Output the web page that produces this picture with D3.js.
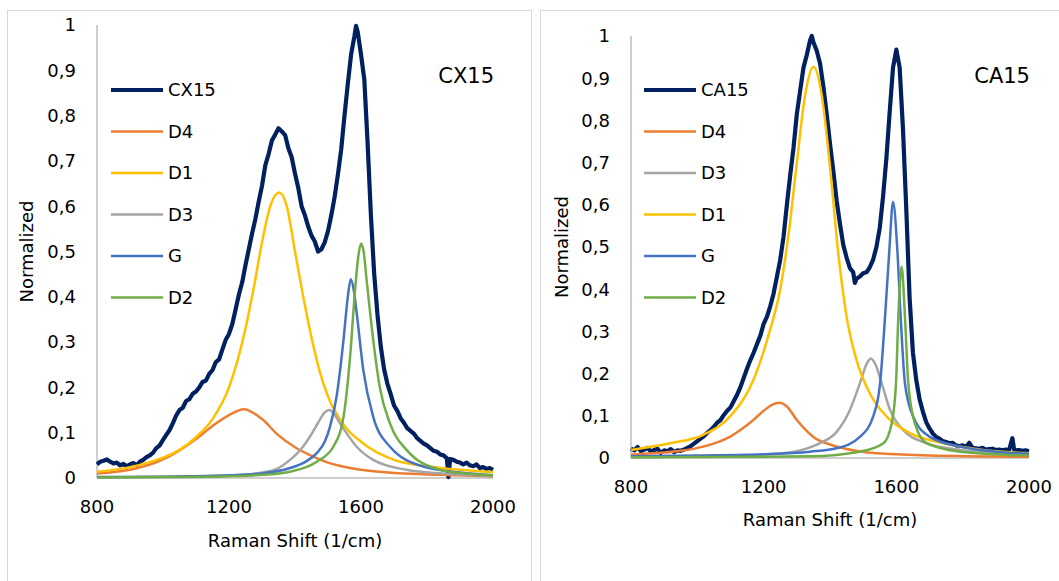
<!DOCTYPE html>
<html>
<head>
<meta charset="utf-8">
<script src="https://cdn.jsdelivr.net/npm/d3@7"></script>
<style>
  body { margin: 0; background: #fff; }
  svg { display: block; font-family: "DejaVu Sans", Verdana, sans-serif; }
</style>
</head>
<body>
<svg id="chart" width="1059" height="581"></svg>
<script>
// measured spectra, [raman shift, normalized]
var cx15 = [[800,.030],[810,.036],[820,.038],[830,.041],[840,.036],[850,.032],[860,.034],[870,.028],[880,.031],[890,.026],
  [900,.030],[910,.033],[920,.028],[930,.036],[940,.040],[950,.046],[960,.050],[970,.056],[980,.066],[990,.072],
  [1000,.084],[1010,.095],[1020,.106],[1030,.121],[1040,.138],[1050,.150],[1060,.155],[1070,.170],[1080,.174],[1090,.186],
  [1100,.191],[1110,.200],[1120,.212],[1130,.215],[1140,.230],[1150,.238],[1160,.256],[1170,.262],[1180,.284],[1190,.305],
  [1200,.318],[1210,.340],[1220,.372],[1230,.405],[1240,.432],[1250,.470],[1260,.505],[1270,.540],[1280,.572],[1290,.610],
  [1300,.645],[1310,.690],[1320,.715],[1330,.745],[1340,.758],[1350,.772],[1360,.765],[1370,.757],[1380,.728],[1390,.708],
  [1400,.672],[1410,.640],[1420,.600],[1430,.580],[1440,.555],[1450,.535],[1460,.522],[1470,.500],[1480,.505],[1490,.520],
  [1500,.545],[1510,.580],[1520,.620],[1530,.670],[1540,.725],[1550,.800],[1560,.870],[1570,.935],[1580,.975],[1585,.998],
  [1590,.985],[1600,.935],[1610,.880],[1620,.740],[1630,.580],[1640,.450],[1650,.360],[1660,.290],[1670,.240],[1680,.208],
  [1690,.185],[1700,.160],[1710,.148],[1720,.132],[1730,.122],[1740,.110],[1750,.104],[1760,.098],[1770,.088],[1780,.082],
  [1790,.076],[1800,.072],[1810,.066],[1820,.060],[1830,.058],[1840,.052],[1850,.050],[1860,.044],[1865,.002],[1870,.042],
  [1880,.040],[1890,.036],[1900,.034],[1910,.030],[1920,.034],[1930,.028],[1940,.026],[1950,.030],[1960,.022],[1970,.024],
  [1980,.020],[1990,.022],[2000,.018]];

var ca15 = [[800,.022],[810,.018],[820,.026],[830,.016],[840,.020],[850,.024],[860,.015],[870,.019],[880,.022],[890,.012],
  [900,.018],[910,.016],[920,.021],[930,.014],[940,.018],[950,.017],[960,.020],[970,.024],[980,.028],[990,.034],
  [1000,.040],[1010,.046],[1020,.052],[1030,.060],[1040,.066],[1050,.074],[1060,.084],[1070,.090],[1080,.102],[1090,.112],
  [1100,.120],[1110,.135],[1120,.150],[1130,.168],[1140,.190],[1150,.212],[1160,.232],[1170,.250],[1180,.270],[1190,.290],
  [1200,.318],[1210,.335],[1220,.360],[1230,.390],[1240,.430],[1250,.470],[1260,.525],[1270,.600],[1280,.670],[1290,.735],
  [1300,.815],[1310,.870],[1320,.925],[1330,.955],[1340,.990],[1345,1.0],[1350,.985],[1360,.965],[1370,.935],[1380,.880],
  [1390,.815],[1400,.745],[1410,.680],[1420,.610],[1430,.555],[1440,.505],[1450,.475],[1460,.450],[1470,.440],[1475,.415],
  [1480,.425],[1490,.430],[1500,.438],[1510,.440],[1520,.452],[1530,.470],[1540,.500],[1550,.545],[1560,.620],[1570,.710],
  [1580,.820],[1590,.925],[1600,.968],[1610,.925],[1620,.780],[1630,.590],[1640,.380],[1650,.250],[1660,.185],[1670,.140],
  [1680,.110],[1690,.085],[1700,.070],[1710,.058],[1720,.050],[1730,.046],[1740,.040],[1750,.038],[1760,.035],[1770,.036],
  [1780,.030],[1790,.028],[1800,.030],[1810,.026],[1820,.036],[1830,.024],[1840,.023],[1850,.022],[1860,.024],[1870,.020],
  [1880,.021],[1890,.022],[1900,.019],[1910,.020],[1920,.018],[1930,.020],[1940,.019],[1950,.047],[1955,.020],[1960,.018],
  [1970,.019],[1980,.017],[1990,.018],[2000,.016]];

// fitted bands CX15
var cxD4 = [[800,.010],[900,.018],[1000,.041],[1050,.061],[1100,.086],[1150,.115],[1200,.139],[1245,.152],[1300,.130],
  [1350,.094],[1400,.068],[1450,.049],[1500,.034],[1600,.018],[1700,.011],[1800,.008],[2000,.004]];
var cxD1 = [[800,.014],[900,.024],[1000,.045],[1050,.062],[1100,.090],[1150,.130],[1200,.200],[1250,.330],[1275,.420],
  [1300,.520],[1325,.600],[1352,.630],[1375,.600],[1400,.500],[1425,.400],[1450,.310],[1475,.235],[1500,.180],[1550,.115],
  [1600,.080],[1700,.040],[1800,.026],[1900,.018],[2000,.013]];
var cxD3 = [[800,.001],[1000,.002],[1200,.005],[1300,.012],[1350,.022],[1385,.040],[1420,.065],[1445,.091],[1470,.122],
  [1490,.145],[1504,.150],[1520,.140],[1536,.121],[1560,.095],[1587,.069],[1637,.040],[1738,.018],[1850,.010],[2000,.005]];
var cxG = [[800,.002],[1000,.003],[1200,.006],[1300,.010],[1385,.022],[1430,.035],[1466,.055],[1490,.080],[1506,.113],
  [1526,.180],[1547,.305],[1560,.400],[1569,.439],[1578,.415],[1587,.364],[1607,.238],[1637,.135],[1688,.069],[1789,.025],
  [1900,.012],[2000,.006]];
var cxD2 = [[800,.001],[1000,.002],[1200,.004],[1300,.007],[1385,.014],[1466,.036],[1516,.069],[1547,.135],[1567,.268],
  [1582,.415],[1592,.490],[1600,.517],[1608,.500],[1617,.437],[1637,.305],[1657,.200],[1688,.120],[1738,.062],[1840,.018],
  [1920,.010],[2000,.006]];

// fitted bands CA15
var caD4 = [[800,.008],[866,.011],[950,.017],[1018,.027],[1060,.037],[1098,.050],[1140,.072],[1169,.090],[1200,.112],
  [1225,.126],[1247,.131],[1270,.122],[1300,.090],[1325,.068],[1350,.050],[1400,.032],[1440,.023],[1541,.011],[1700,.006],[2000,.003]];
var caD3 = [[800,.002],[1000,.003],[1200,.008],[1300,.016],[1340,.025],[1370,.035],[1420,.062],[1460,.114],[1490,.177],
  [1510,.222],[1523,.236],[1537,.222],[1556,.177],[1581,.114],[1621,.066],[1691,.035],[1792,.019],[1900,.012],[2000,.008]];
var caD1 = [[800,.019],[918,.035],[1018,.055],[1098,.098],[1169,.185],[1219,.303],[1250,.400],[1275,.530],[1300,.700],
  [1325,.860],[1350,.927],[1375,.860],[1400,.690],[1425,.485],[1450,.335],[1480,.232],[1520,.153],[1571,.098],[1641,.059],
  [1742,.035],[1850,.020],[2000,.011]];
var caG = [[800,.004],[1000,.006],[1200,.009],[1340,.015],[1420,.023],[1490,.050],[1530,.098],[1551,.177],[1566,.335],
  [1579,.493],[1590,.607],[1603,.493],[1613,.335],[1626,.177],[1651,.098],[1701,.050],[1792,.027],[1900,.015],[2000,.010]];
var caD2 = [[800,.002],[1200,.003],[1340,.004],[1490,.015],[1561,.035],[1586,.082],[1599,.177],[1606,.335],[1616,.453],
  [1626,.335],[1636,.177],[1656,.082],[1691,.035],[1792,.015],[2000,.006]];

var xTicks = [800, 1200, 1600, 2000];
var yTicks = [0, 0.1, 0.2, 0.3, 0.4, 0.5, 0.6, 0.7, 0.8, 0.9, 1];

var colors = { D4: "#ED7D31", D1: "#FFC000", D3: "#A5A5A5", G: "#4472C4", D2: "#70AD47", sample: "#002060" };

var panels = [
  { title: "CX15", frame: [7.5, 10.5], x0: 97, x1: 493, y0: 478, y1: 25, xlabY: 541, ylabX: 27, legX: 111,
    series: [["CX15", cx15, "sample"], ["D4", cxD4], ["D1", cxD1], ["D3", cxD3], ["G", cxG], ["D2", cxD2]] },
  { title: "CA15", frame: [540.5, 10.5], x0: 631, x1: 1029, y0: 458, y1: 36, xlabY: 520, ylabX: 562, legX: 644,
    series: [["CA15", ca15, "sample"], ["D4", caD4], ["D3", caD3], ["D1", caD1], ["G", caG], ["D2", caD2]] }
];

var svg = d3.select("#chart");

panels.forEach(function(p){
  svg.append("rect")
    .attr("x", p.frame[0]).attr("y", p.frame[1])
    .attr("width", 524).attr("height", 600)
    .attr("fill", "none").attr("stroke", "#d9d9d9").attr("stroke-width", 1);

  var x = d3.scaleLinear().domain([800, 2000]).range([p.x0, p.x1]);
  var y = d3.scaleLinear().domain([0, 1]).range([p.y0, p.y1]);
  var g = svg.append("g");

  // axes lines (no ticks, just like excel)
  g.append("line").attr("x1", x(800)).attr("x2", x(800)).attr("y1", y(0)).attr("y2", y(1))
    .attr("stroke", "#bfbfbf").attr("stroke-width", 1.5);
  g.append("line").attr("x1", x(800)).attr("x2", x(2000)).attr("y1", y(0)).attr("y2", y(0))
    .attr("stroke", "#bfbfbf").attr("stroke-width", 1.5);

  g.selectAll(".ytick").data(yTicks).enter().append("text")
    .attr("x", x(800) - 21).attr("y", function(d){ return y(d); })
    .attr("dy", "0.35em").attr("text-anchor", "end")
    .attr("font-size", 18).attr("fill", "#000")
    .text(function(d){ return d === 0 || d === 1 ? String(d) : String(d).replace(".", ","); });

  g.selectAll(".xtick").data(xTicks).enter().append("text")
    .attr("x", function(d){ return x(d); }).attr("y", y(0) + 29)
    .attr("dy", "0.35em").attr("text-anchor", "middle")
    .attr("font-size", 18).attr("fill", "#000")
    .text(function(d){ return d; });

  g.append("text").attr("x", (p.x0 + p.x1) / 2).attr("y", p.xlabY).attr("dy", "0.35em")
    .attr("text-anchor", "middle").attr("font-size", 18).text("Raman Shift (1/cm)");
  g.append("text").attr("transform", "translate(" + p.ylabX + "," + (p.y0 + p.y1) / 2 + ") rotate(-90)")
    .attr("dy", "0.35em").attr("text-anchor", "middle").attr("font-size", 18).text("Normalized");

  g.append("text").attr("x", p.x1 + 1).attr("y", 76).attr("dy", "0.35em")
    .attr("text-anchor", "end").attr("font-size", 21).text(p.title);

  var line = d3.line().x(function(d){ return x(d[0]); }).y(function(d){ return y(d[1]); });

  p.series.forEach(function(s){
    var isSample = s[2] === "sample";
    g.append("path").datum(s[1])
      .attr("fill", "none")
      .attr("stroke", isSample ? colors.sample : colors[s[0]])
      .attr("stroke-width", isSample ? 4.2 : 2.5)
      .attr("stroke-linejoin", "round")
      .attr("d", line.curve(isSample ? d3.curveLinear : d3.curveMonotoneX));
  });

  var leg = g.selectAll(".leg").data(p.series).enter().append("g")
    .attr("transform", function(d, i){ return "translate(" + p.legX + "," + (90 + i * 41.5) + ")"; });
  leg.append("line").attr("x1", 0).attr("x2", 52).attr("y1", 0).attr("y2", 0)
    .attr("stroke", function(d){ return d[2] === "sample" ? colors.sample : colors[d[0]]; })
    .attr("stroke-width", function(d){ return d[2] === "sample" ? 3.8 : 2.5; });
  leg.append("text").attr("x", 57).attr("y", 0).attr("dy", "0.35em")
    .attr("font-size", 18).text(function(d){ return d[0]; });
});
</script>
</body>
</html>
